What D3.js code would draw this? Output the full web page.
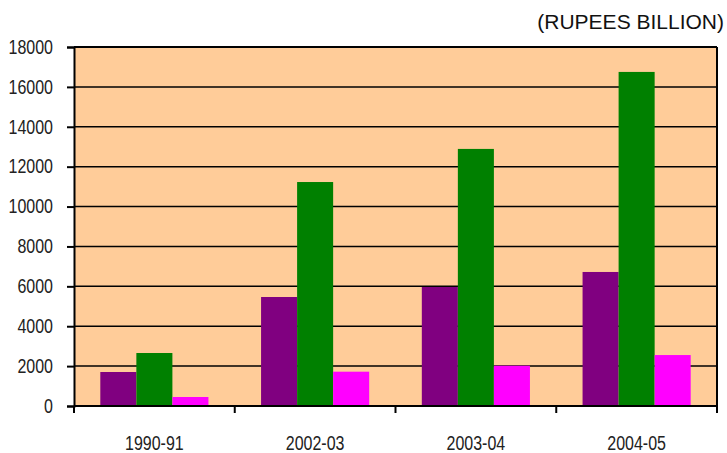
<!DOCTYPE html>
<html>
<head>
  <meta charset="utf-8">
  <script src="https://d3js.org/d3.v7.min.js"></script>
  <style type="text/css">
    body { margin: 0; background: #fff; }
    .tick text, .cat-label { font-family: "Liberation Sans Narrow", "Arial Narrow", "Liberation Sans", sans-serif; font-size: 19.5px; fill: #222; }
    .unit { font-family: "Liberation Sans", Arial, sans-serif; font-size: 21px; fill: #111; }
  </style>
</head>
<body>
  <div id="chart"></div>
  <script type="text/javascript">
    var years = ['1990-91', '2002-03', '2003-04', '2004-05'];
    var seriesNames = ['Series 1', 'Series 2', 'Series 3'];
    var series1 = [1705, 5465, 5967, 6720];
    var series2 = [2657, 11230, 12890, 16750];
    var series3 = [451, 1720, 2020, 2555];
    var yTicks = [0, 2000, 4000, 6000, 8000, 10000, 12000, 14000, 16000, 18000];
    var colors = ['#800080', '#008000', '#FF00FF'];

    var width = 727, height = 453;
    var margin = {top: 47, right: 10, bottom: 47, left: 74};
    var w = width - margin.left - margin.right,
        h = height - margin.top - margin.bottom;

    var data = years.map(function(y, i) {
      return {year: y, values: [series1[i], series2[i], series3[i]]};
    });

    var svg = d3.select('#chart').append('svg')
        .attr('width', width)
        .attr('height', height);

    svg.append('text')
        .attr('class', 'unit')
        .attr('x', 724)
        .attr('y', 29)
        .attr('text-anchor', 'end')
        .text('(RUPEES BILLION)');

    var g = svg.append('g').attr('transform', 'translate(' + margin.left + ',' + margin.top + ')');

    var x0 = d3.scaleBand().domain(years).range([0, w]).padding(0);
    var x1 = d3.scaleBand().domain(seriesNames).range([0, x0.bandwidth()])
        .paddingInner(0).paddingOuter(0.73);
    var y = d3.scaleLinear().domain([0, 18000]).range([h, 0]);

    // plot background
    g.append('rect')
        .attr('width', w)
        .attr('height', h)
        .attr('fill', '#FFCC99');

    // grid lines
    g.selectAll('.grid')
      .data(yTicks.slice(1, -1))
      .enter().append('line')
        .attr('x1', 0).attr('x2', w)
        .attr('y1', function(d) { return y(d); })
        .attr('y2', function(d) { return y(d); })
        .attr('stroke', '#000')
        .attr('stroke-width', 1.5);

    // bars
    var groups = g.selectAll('.grp')
      .data(data)
      .enter().append('g')
        .attr('transform', function(d) { return 'translate(' + x0(d.year) + ',0)'; });

    groups.selectAll('rect')
      .data(function(d) { return d.values.map(function(v, i) { return {name: seriesNames[i], value: v, i: i}; }); })
      .enter().append('rect')
        .attr('x', function(d) { return x1(d.name); })
        .attr('width', x1.bandwidth())
        .attr('y', function(d) { return y(d.value); })
        .attr('height', function(d) { return h - y(d.value); })
        .attr('fill', function(d) { return colors[d.i]; });

    // frame top and right
    g.append('line').attr('x1', 0).attr('x2', w).attr('y1', 0).attr('y2', 0)
        .attr('stroke', '#000').attr('stroke-width', 2);
    g.append('line').attr('x1', w).attr('x2', w).attr('y1', 0).attr('y2', h)
        .attr('stroke', '#000').attr('stroke-width', 2);

    // y axis
    var yAxis = g.append('g')
        .call(d3.axisLeft(y).tickValues(yTicks).tickSize(7).tickPadding(14).tickFormat(d3.format('d')));
    yAxis.select('.domain').attr('stroke-width', 2);
    yAxis.selectAll('.tick line').attr('stroke-width', 2);

    // x axis with ticks at category boundaries
    var xAxis = g.append('g').attr('transform', 'translate(0,' + h + ')');
    xAxis.append('line').attr('x1', 0).attr('x2', w)
        .attr('stroke', '#000').attr('stroke-width', 2);
    xAxis.selectAll('.xtick')
      .data(years.map(function(d) { return x0(d); }).concat([w]))
      .enter().append('line')
        .attr('x1', function(d) { return d; })
        .attr('x2', function(d) { return d; })
        .attr('y1', 0).attr('y2', 7)
        .attr('stroke', '#000').attr('stroke-width', 2);
    xAxis.selectAll('.cat-label')
      .data(years)
      .enter().append('text')
        .attr('class', 'cat-label')
        .attr('x', function(d) { return x0(d) + x0.bandwidth() / 2; })
        .attr('y', 44)
        .attr('text-anchor', 'middle')
        .text(function(d) { return d; });

    // condense labels like a narrow face if no narrow font is available
    svg.selectAll('.tick text, .cat-label').each(function() {
      var len = this.getComputedTextLength();
      var target = this.textContent.length * 19.5 * 0.44;
      if (len > target * 1.05) {
        d3.select(this).attr('textLength', len * 0.82).attr('lengthAdjust', 'spacingAndGlyphs');
      }
    });
  </script>
</body>
</html>
